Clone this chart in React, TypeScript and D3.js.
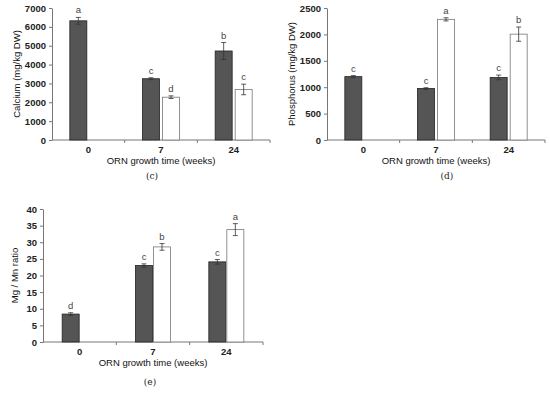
import * as d3 from "d3";
import React, { useRef, useEffect } from "react";

// ORN growth time groups
const weeks = ["0", "7", "24"];

// Calcium (mg/kg DW)
const calciumDark = [6320, 3250, 4720];
const calciumDarkErr = [180, 50, 450];
const calciumDarkLetters = ["a", "c", "b"];
const calciumWhite = [null, 2270, 2680];
const calciumWhiteErr = [null, 70, 280];
const calciumWhiteLetters = [null, "d", "c"];

// Phosphorus (mg/kg DW)
const phosDark = [1200, 975, 1185];
const phosDarkErr = [20, 15, 45];
const phosDarkLetters = ["c", "c", "c"];
const phosWhite = [null, 2285, 2005];
const phosWhiteErr = [null, 30, 135];
const phosWhiteLetters = [null, "a", "b"];

// Mg / Mn ratio
const ratioDark = [8.4, 23.0, 24.1];
const ratioDarkErr = [0.4, 0.5, 0.7];
const ratioDarkLetters = ["d", "c", "c"];
const ratioWhite = [null, 28.6, 33.8];
const ratioWhiteErr = [null, 1.0, 1.8];
const ratioWhiteLetters = [null, "b", "a"];

const panels = [
  {
    title: "Calcium (mg/kg DW)", tag: "(c)", max: 7000, step: 1000,
    x0: 52, x1: 270, yTop: 8, yBottom: 140, gap: 3, titleX: 17, tagX: 152, tagY: 179,
    dark: calciumDark, darkErr: calciumDarkErr, darkL: calciumDarkLetters,
    white: calciumWhite, whiteErr: calciumWhiteErr, whiteL: calciumWhiteLetters,
  },
  {
    title: "Phosphorus (mg/kg DW)", tag: "(d)", max: 2500, step: 500,
    x0: 327, x1: 545, yTop: 8, yBottom: 140, gap: 3, titleX: 292, tagX: 447, tagY: 179,
    dark: phosDark, darkErr: phosDarkErr, darkL: phosDarkLetters,
    white: phosWhite, whiteErr: phosWhiteErr, whiteL: phosWhiteLetters,
  },
  {
    title: "Mg / Mn ratio", tag: "(e)", max: 40, step: 5,
    x0: 43, x1: 263, yTop: 209, yBottom: 342, gap: 1, titleX: 15, tagX: 150, tagY: 385,
    dark: ratioDark, darkErr: ratioDarkErr, darkL: ratioDarkLetters,
    white: ratioWhite, whiteErr: ratioWhiteErr, whiteL: ratioWhiteLetters,
  },
];

const barW = 17;
const sans = "Liberation Sans, Arial, sans-serif";

function Chart() {
  const ref = useRef(null);

  useEffect(() => {
    const svg = d3.select(ref.current);
    svg.selectAll("*").remove();

    panels.forEach((p: any) => {
      const g = svg.append("g");
      const scaleX = d3.scaleBand().domain(weeks).range([p.x0, p.x1]);
      const scaleY = d3.scaleLinear().domain([0, p.max]).range([p.yBottom, p.yTop]);

      // y axis
      const ticks = d3.range(0, p.max + p.step / 2, p.step);
      g.append("g")
        .attr("transform", `translate(${p.x0},0)`)
        .call(
          d3.axisLeft(scaleY).tickValues(ticks).tickFormat(d3.format("d"))
            .tickSize(3).tickPadding(3).tickSizeOuter(0)
        )
        .call((a: any) => a.select(".domain").attr("stroke", "#777"))
        .call((a: any) => a.selectAll(".tick line").attr("stroke", "#777"))
        .call((a: any) =>
          a.selectAll(".tick text")
            .attr("font-family", sans)
            .attr("font-size", 9.5)
            .attr("font-weight", "bold")
            .attr("fill", "#222")
        );

      // x axis, ticks on group boundaries
      const xa = g.append("g").attr("transform", `translate(0,${p.yBottom})`);
      xa.append("line")
        .attr("x1", p.x0).attr("x2", p.x1)
        .attr("stroke", "#777");
      weeks.forEach((w) => {
        const bx = (scaleX(w) as number) + scaleX.bandwidth();
        xa.append("line")
          .attr("x1", bx).attr("x2", bx).attr("y1", 0).attr("y2", 3)
          .attr("stroke", "#777");
        xa.append("text")
          .attr("x", (scaleX(w) as number) + scaleX.bandwidth() / 2)
          .attr("y", 13)
          .attr("text-anchor", "middle")
          .attr("font-family", sans)
          .attr("font-size", 9.5)
          .attr("font-weight", "bold")
          .attr("fill", "#222")
          .text(w);
      });
      g.append("text")
        .attr("x", (p.x0 + p.x1) / 2)
        .attr("y", p.yBottom + 24)
        .attr("text-anchor", "middle")
        .attr("font-family", sans)
        .attr("font-size", 9.5)
        .attr("fill", "#111")
        .text("ORN growth time (weeks)");

      // y title
      g.append("text")
        .attr("transform", `translate(${p.titleX},${(p.yTop + p.yBottom) / 2}) rotate(-90)`)
        .attr("text-anchor", "middle")
        .attr("dy", "0.35em")
        .attr("font-family", sans)
        .attr("font-size", 9.5)
        .attr("fill", "#111")
        .text(p.title);

      // panel tag
      svg.append("text")
        .attr("x", p.tagX)
        .attr("y", p.tagY)
        .attr("text-anchor", "middle")
        .attr("font-family", "DejaVu Serif, serif")
        .attr("font-size", 9)
        .attr("fill", "#222")
        .text(p.tag);

      // bars with error bars and letters
      const series = [
        { vals: p.dark, errs: p.darkErr, lets: p.darkL, fill: "#555555", stroke: "#222", off: -barW - p.gap / 2 },
        { vals: p.white, errs: p.whiteErr, lets: p.whiteL, fill: "#ffffff", stroke: "#777", off: p.gap / 2 },
      ];
      series.forEach((s) => {
        weeks.forEach((w, i) => {
          const v = s.vals[i];
          if (v == null) return;
          const bx = (scaleX(w) as number) + scaleX.bandwidth() / 2 + s.off;
          g.append("rect")
            .attr("x", bx)
            .attr("y", scaleY(v))
            .attr("width", barW)
            .attr("height", scaleY(0) - scaleY(v))
            .attr("fill", s.fill)
            .attr("stroke", s.stroke)
            .attr("stroke-width", 0.8);
          const mx = bx + barW / 2;
          const e = s.errs[i];
          const hi = scaleY(v + e);
          const lo = scaleY(v - e);
          g.append("line").attr("x1", mx).attr("x2", mx).attr("y1", hi).attr("y2", lo)
            .attr("stroke", "#333").attr("stroke-width", 0.8);
          [hi, lo].forEach((yy) =>
            g.append("line").attr("x1", mx - 2.5).attr("x2", mx + 2.5).attr("y1", yy).attr("y2", yy)
              .attr("stroke", "#333").attr("stroke-width", 0.8)
          );
          g.append("text")
            .attr("x", mx)
            .attr("y", hi - 4)
            .attr("text-anchor", "middle")
            .attr("font-family", sans)
            .attr("font-size", 9.5)
            .attr("fill", "#444")
            .text(s.lets[i]);
        });
      });
    });
  }, []);

  return (
    <svg
      ref={ref}
      width={550}
      height={393}
      viewBox="0 0 550 393"
      style={{ position: "absolute", left: 0, top: 0, background: "#fff" }}
    ></svg>
  );
}

export default function App() {
  return <Chart />;
}
